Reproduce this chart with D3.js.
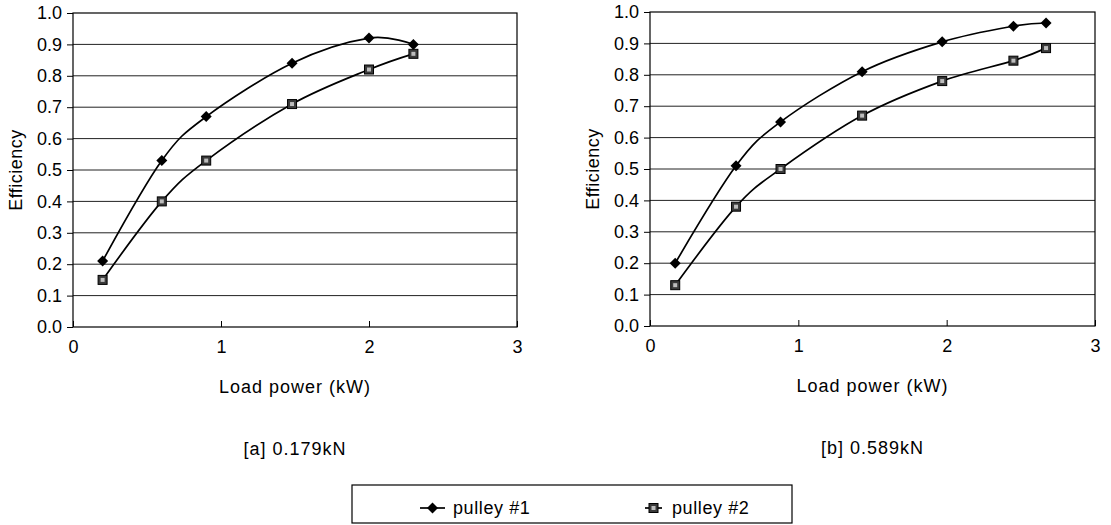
<!DOCTYPE html>
<html><head><meta charset="utf-8">
<script src="https://cdn.jsdelivr.net/npm/d3@7"></script>
<style>
html,body{margin:0;padding:0;background:#fff;}
svg{display:block;font-family:"Liberation Sans",Arial,sans-serif;}
</style></head>
<body>
<svg id="c" width="1111" height="525"></svg>
<script>
// ---- data ----
const seriesNames = ["pulley #1", "pulley #2"];
const xTicks = [0, 1, 2, 3];
const yTicks = [0, 0.1, 0.2, 0.3, 0.4, 0.5, 0.6, 0.7, 0.8, 0.9, 1.0];
const panelTitles = ["[a] 0.179kN", "[b] 0.589kN"];
const xA = [0.2, 0.6, 0.9, 1.48, 2.0, 2.3];
const yA1 = [0.21, 0.53, 0.67, 0.84, 0.92, 0.90];
const yA2 = [0.15, 0.40, 0.53, 0.71, 0.82, 0.87];
const xB = [0.17, 0.58, 0.88, 1.43, 1.97, 2.45, 2.67];
const yB1 = [0.20, 0.51, 0.65, 0.81, 0.905, 0.955, 0.965];
const yB2 = [0.13, 0.38, 0.50, 0.67, 0.78, 0.845, 0.885];

const svg = d3.select("#c");

const panels = [
  {x0: 73, x1: 517, y0: 327, y1: 13, xs: xA, s1: yA1, s2: yA2, title: panelTitles[0]},
  {x0: 650, x1: 1095, y0: 326, y1: 12, xs: xB, s1: yB1, s2: yB2, title: panelTitles[1]}
];

function diamond(g, cx, cy) {
  g.append("path")
    .attr("d", `M${cx},${cy-5.5}L${cx+5.5},${cy}L${cx},${cy+5.5}L${cx-5.5},${cy}Z`)
    .attr("fill", "#000");
}
function square(g, cx, cy) {
  g.append("rect").attr("x", cx-4.5).attr("y", cy-4.5).attr("width", 9).attr("height", 9)
    .attr("fill", "#3a3a3a").attr("stroke", "#000").attr("stroke-width", 1);
  g.append("rect").attr("x", cx-2).attr("y", cy-2).attr("width", 4).attr("height", 4)
    .attr("fill", "#bdbdbd");
}

panels.forEach(p => {
  const x = d3.scaleLinear().domain([0, 3]).range([p.x0, p.x1]);
  const y = d3.scaleLinear().domain([0, 1]).range([p.y0, p.y1]);
  const g = svg.append("g");

  // gridlines
  g.selectAll("line.grid").data(yTicks.filter(t => t > 0 && t < 1)).enter()
    .append("line").attr("class", "grid")
    .attr("x1", p.x0).attr("x2", p.x1)
    .attr("y1", d => y(d)).attr("y2", d => y(d))
    .attr("stroke", "#222").attr("stroke-width", 1);

  // frame
  g.append("rect").attr("x", p.x0).attr("y", p.y1)
    .attr("width", p.x1 - p.x0).attr("height", p.y0 - p.y1)
    .attr("fill", "none").attr("stroke", "#000").attr("stroke-width", 1.2);

  // y axis
  const ya = d3.axisLeft(y).tickValues(yTicks).tickFormat(d3.format(".1f")).tickSize(6).tickPadding(5);
  const yg = g.append("g").attr("transform", `translate(${p.x0},0)`).call(ya);
  yg.select(".domain").remove();
  yg.selectAll("text").attr("font-size", 18).attr("fill", "#000").style("font-family", "Liberation Sans, Arial, sans-serif");

  // x axis (ticks inward)
  const xa = d3.axisBottom(x).tickValues(xTicks).tickFormat(d3.format("d")).tickSize(-6).tickPadding(13);
  const xg = g.append("g").attr("transform", `translate(0,${p.y0})`).call(xa);
  xg.select(".domain").remove();
  xg.selectAll("text").attr("font-size", 18).attr("fill", "#000").style("font-family", "Liberation Sans, Arial, sans-serif");

  // lines
  const line = d3.line().x(d => x(d[0])).y(d => y(d[1])).curve(d3.curveCardinal.tension(0));
  const d1 = p.xs.map((v, i) => [v, p.s1[i]]);
  const d2 = p.xs.map((v, i) => [v, p.s2[i]]);
  g.append("path").attr("d", line(d1)).attr("fill", "none").attr("stroke", "#000").attr("stroke-width", 1.7);
  g.append("path").attr("d", line(d2)).attr("fill", "none").attr("stroke", "#000").attr("stroke-width", 1.7);
  d1.forEach(d => diamond(g, x(d[0]), y(d[1])));
  d2.forEach(d => square(g, x(d[0]), y(d[1])));

  // labels
  g.append("text").attr("transform", `translate(${p.x0 - 51},${(p.y0 + p.y1) / 2}) rotate(-90)`)
    .attr("text-anchor", "middle").attr("font-size", 18).attr("letter-spacing", 0.5).text("Efficiency");
  const cx = (p.x0 + p.x1) / 2;
  g.append("text").attr("x", cx).attr("y", p.y0 + 66).attr("text-anchor", "middle")
    .attr("font-size", 18).attr("letter-spacing", 1).text("Load power (kW)");
  g.append("text").attr("x", cx).attr("y", p.y0 + 128).attr("text-anchor", "middle")
    .attr("font-size", 18).attr("letter-spacing", 1).text(p.title);
});

// legend
const lg = svg.append("g");
lg.append("rect").attr("x", 352).attr("y", 485).attr("width", 440).attr("height", 38)
  .attr("fill", "none").attr("stroke", "#000").attr("stroke-width", 1.2);
const legendX = [420, 645];
seriesNames.forEach((name, i) => {
  const lx = legendX[i];
  const ly = 508;
  if (i === 0) {
    lg.append("line").attr("x1", lx).attr("x2", lx + 25).attr("y1", ly).attr("y2", ly).attr("stroke", "#000").attr("stroke-width", 1.7);
    diamond(lg, lx + 12.5, ly);
  } else {
    lg.append("line").attr("x1", lx).attr("x2", lx + 17).attr("y1", ly).attr("y2", ly).attr("stroke", "#000").attr("stroke-width", 1.7);
    square(lg, lx + 8.5, ly);
  }
  lg.append("text").attr("x", i === 0 ? 453 : 672).attr("y", ly + 6).attr("font-size", 18).attr("letter-spacing", 0.6).text(name);
});
</script>
</body></html>
